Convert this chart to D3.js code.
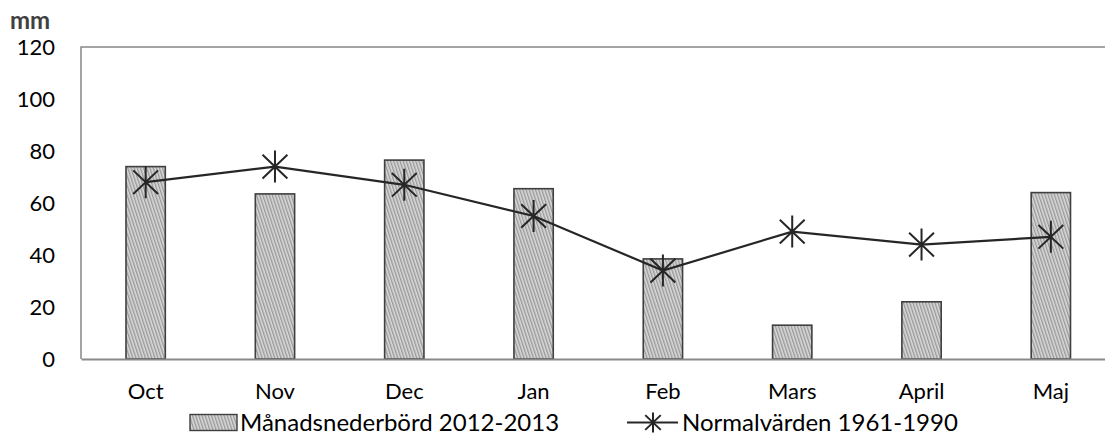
<!DOCTYPE html>
<html>
<head>
<meta charset="utf-8">
<script src="https://cdn.jsdelivr.net/npm/d3@7"></script>
<style>
  html, body { margin: 0; padding: 0; background: #ffffff; }
  svg { display: block; font-family: Lato, "Liberation Sans", sans-serif; }
</style>
</head>
<body>
<svg id="chart" width="1105" height="436"></svg>
<script>
// Monthly precipitation (mm) compared with the 1961-1990 normal
const months = ["Oct", "Nov", "Dec", "Jan", "Feb", "Mars", "April", "Maj"];
const precip = [74, 63.5, 76.5, 65.5, 38.5, 13, 22, 64];
const normals = [68, 74, 67, 55, 34, 49, 44, 47];
const yTicks = [0, 20, 40, 60, 80, 100, 120];
const barLabel = "Månadsnederbörd 2012-2013";
const lineLabel = "Normalvärden 1961-1990";
const unitLabel = "mm";

const svg = d3.select("#chart");
const plot = { left: 81, right: 1115.5, top: 47, bottom: 359 };

const x = d3.scaleBand()
  .domain(months)
  .range([plot.left, plot.right])
  .paddingInner(0.696)
  .paddingOuter(0.348);

const y = d3.scaleLinear()
  .domain([0, 120])
  .range([plot.bottom, plot.top]);

// Hatched fill for the bars
const defs = svg.append("defs");
const pat = defs.append("pattern")
  .attr("id", "hatch")
  .attr("patternUnits", "userSpaceOnUse")
  .attr("width", 3)
  .attr("height", 3)
  .attr("patternTransform", "rotate(-18)");
pat.append("rect").attr("width", 3).attr("height", 3).attr("fill", "#dadada");
pat.append("line")
  .attr("x1", 0.75).attr("y1", 0).attr("x2", 0.75).attr("y2", 3)
  .attr("stroke", "#888888").attr("stroke-width", 1.1);

// Plot frame (left and top edges)
svg.append("path")
  .attr("d", `M${plot.left},${plot.bottom}V${plot.top}H${plot.right}`)
  .attr("fill", "none")
  .attr("stroke", "#868686")
  .attr("stroke-width", 1.5);

// Y axis labels
const yAxis = d3.axisLeft(y).tickValues(yTicks).tickSize(0).tickPadding(26);
const gy = svg.append("g").attr("transform", `translate(${plot.left},0)`).call(yAxis);
gy.select(".domain").remove();
gy.selectAll("text")
  .attr("font-family", "Lato, sans-serif")
  .attr("font-size", 22)
  .attr("fill", "#000");

// Bars
svg.append("g").selectAll("rect")
  .data(months.map((m, i) => ({ m, v: precip[i] })))
  .join("rect")
  .attr("x", d => x(d.m))
  .attr("y", d => y(d.v))
  .attr("width", x.bandwidth())
  .attr("height", d => y(0) - y(d.v))
  .attr("fill", "url(#hatch)")
  .attr("stroke", "#3f3f3f")
  .attr("stroke-width", 1.6);

// X axis
const xAxis = d3.axisBottom(x).tickSize(0).tickPadding(24);
const gx = svg.append("g").attr("transform", `translate(0,${plot.bottom})`).call(xAxis);
gx.select(".domain")
  .attr("stroke", "#898989")
  .attr("stroke-width", 2);
gx.selectAll("text")
  .attr("font-family", "Lato, sans-serif")
  .attr("font-size", 22)
  .attr("fill", "#000");

// Normal values line with asterisk markers
const cx = m => x(m) + x.bandwidth() / 2;
const line = d3.line().x((d, i) => cx(months[i])).y(d => y(d));
svg.append("path")
  .datum(normals)
  .attr("d", line)
  .attr("fill", "none")
  .attr("stroke", "#262626")
  .attr("stroke-width", 2.2);

function asterisk(g, r) {
  const d = r * 0.74;
  g.append("path")
    .attr("d", `M0,${-r}V${r}M${-d * 1.05},${-d}L${d * 1.05},${d}M${-d * 1.05},${d}L${d * 1.05},${-d}`)
    .attr("fill", "none")
    .attr("stroke", "#262626")
    .attr("stroke-width", 2);
}

svg.append("g").selectAll("g")
  .data(normals)
  .join("g")
  .attr("transform", (d, i) => `translate(${cx(months[i])},${y(d)})`)
  .each(function () { asterisk(d3.select(this), 16); });

// Unit label
svg.append("text")
  .attr("x", 10)
  .attr("y", 29)
  .attr("font-family", "Lato, sans-serif")
  .attr("font-weight", "bold")
  .attr("font-size", 24)
  .attr("fill", "#404040")
  .text(unitLabel);

// Legend
const lg = svg.append("g");
lg.append("rect")
  .attr("x", 190).attr("y", 414.5).attr("width", 47).attr("height", 16)
  .attr("fill", "url(#hatch)")
  .attr("stroke", "#3f3f3f")
  .attr("stroke-width", 1.4);
lg.append("text")
  .attr("x", 240).attr("y", 430.5)
  .attr("font-size", 24)
  .attr("fill", "#000")
  .text(barLabel);
lg.append("line")
  .attr("x1", 627).attr("y1", 422.5).attr("x2", 678).attr("y2", 422.5)
  .attr("stroke", "#262626").attr("stroke-width", 2.2);
const lm = lg.append("g").attr("transform", "translate(653,422.5)");
asterisk(lm, 10);
lg.append("text")
  .attr("x", 682).attr("y", 430.5)
  .attr("font-size", 24)
  .attr("fill", "#000")
  .text(lineLabel);
</script>
</body>
</html>
